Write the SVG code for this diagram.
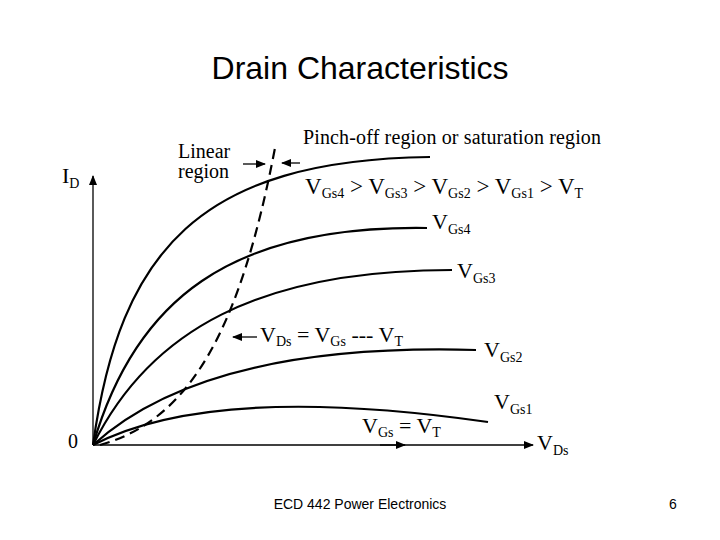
<svg xmlns="http://www.w3.org/2000/svg" width="720" height="540" viewBox="0 0 720 540">
<style>
.c{fill:none;stroke:#000;stroke-width:2.2}
.ax{fill:none;stroke:#000;stroke-width:1.3}
.s{font-family:"Liberation Serif",serif;fill:#000}
.t{font-family:"Liberation Sans",Arial,sans-serif;fill:#000}
</style>
<defs><marker id="a" markerWidth="10" markerHeight="8" refX="9" refY="4" orient="auto" markerUnits="userSpaceOnUse"><path d="M0,0 L10,4 L0,8 Z" fill="#000"/></marker></defs>
<rect width="720" height="540" fill="#fff"/>
<text class="t" x="360" y="79" font-size="32" text-anchor="middle">Drain Characteristics</text>
<g id="connectors">
<path class="ax" d="M93,445 V176" marker-end="url(#a)"/>
<path class="ax" d="M93,445 H533" marker-end="url(#a)"/>
<path class="ax" d="M380,445 H405" marker-end="url(#a)"/>
<path class="c" d="M93,445 C120,250 200,160 430,157"/>
<path class="c" d="M93,445 C135,300 230,225 427,228"/>
<path class="c" d="M93,445 C150,330 260,270 452,270"/>
<path class="c" d="M93,445 C170,375 300,345 476,350"/>
<path class="c" d="M93,445 C170,405 300,395 488,422"/>
<path class="c" d="M100,445 C190,420 240,330 275,148" stroke-dasharray="10,6"/>
<path class="ax" d="M243,164 H265" marker-end="url(#a)"/>
<path class="ax" d="M300,163 H282" marker-end="url(#a)"/>
<path class="ax" d="M257,337 H233" marker-end="url(#a)"/>
</g>
<g id="labels" class="s">
<text x="62" y="183" font-size="22">I<tspan font-size="14" dy="5">D</tspan></text>
<text x="68" y="448" font-size="20">0</text>
<text x="178" y="158" font-size="20">Linear</text>
<text x="178" y="178" font-size="20">region</text>
<text x="303" y="144" font-size="20" textLength="298">Pinch-off region or saturation region</text>
<text x="305" y="194" font-size="23">V<tspan font-size="14" dy="4">Gs4</tspan><tspan dy="-4"> &gt; V</tspan><tspan font-size="14" dy="4">Gs3</tspan><tspan dy="-4"> &gt; V</tspan><tspan font-size="14" dy="4">Gs2</tspan><tspan dy="-4"> &gt; V</tspan><tspan font-size="14" dy="4">Gs1</tspan><tspan dy="-4"> &gt; V</tspan><tspan font-size="14" dy="4">T</tspan></text>
<text x="432" y="229" font-size="22">V<tspan font-size="14" dy="5">Gs4</tspan></text>
<text x="457" y="278" font-size="22">V<tspan font-size="14" dy="5">Gs3</tspan></text>
<text x="484" y="357" font-size="22">V<tspan font-size="14" dy="5">Gs2</tspan></text>
<text x="494" y="409" font-size="22">V<tspan font-size="14" dy="5">Gs1</tspan></text>
<text x="260" y="342" font-size="22">V<tspan font-size="14" dy="4">Ds</tspan><tspan dy="-4"> = V</tspan><tspan font-size="14" dy="4">Gs</tspan><tspan dy="-4"> --- V</tspan><tspan font-size="14" dy="4">T</tspan></text>
<text x="362" y="433" font-size="22">V<tspan font-size="14" dy="4">Gs</tspan><tspan dy="-4"> = V</tspan><tspan font-size="14" dy="4">T</tspan></text>
<text x="537" y="450" font-size="22">V<tspan font-size="14" dy="5">Ds</tspan></text>
</g>
<text class="t" x="360" y="509" font-size="14" text-anchor="middle">ECD 442 Power Electronics</text>
<text class="t" x="673" y="509" font-size="14" text-anchor="middle">6</text>
</svg>
